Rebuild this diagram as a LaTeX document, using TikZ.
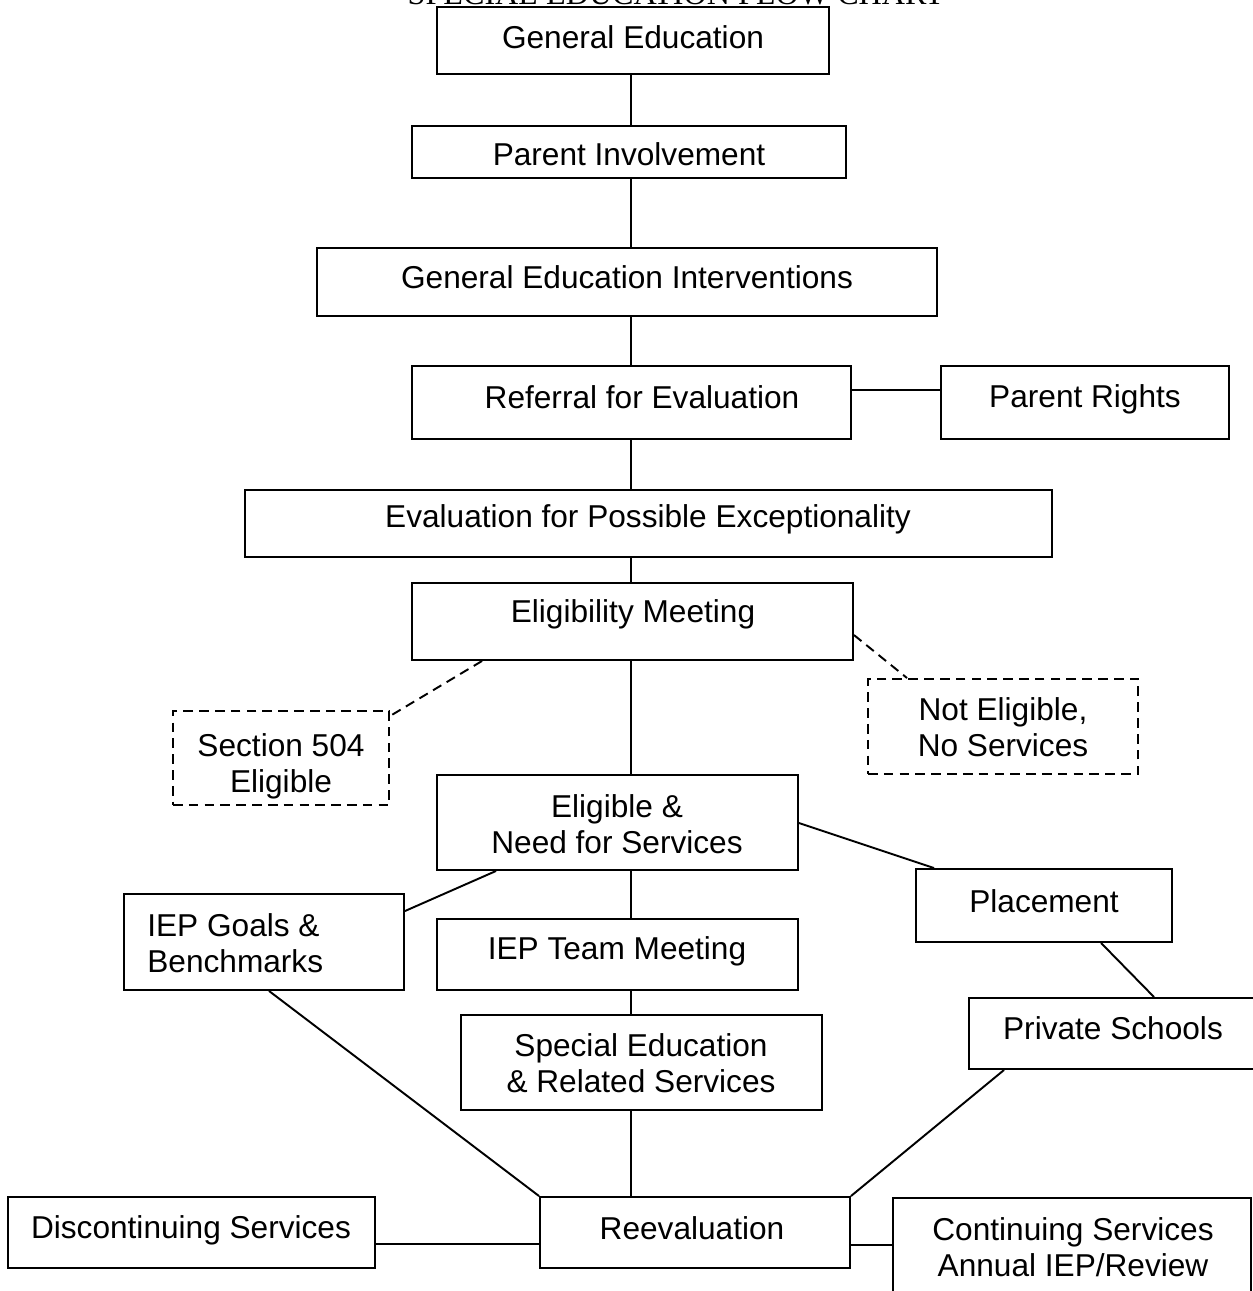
\documentclass[tikz,border=0pt]{standalone}
\usepackage{fontspec}
\setmainfont{Liberation Sans}
\newfontfamily\titlefont{Liberation Serif}
\usetikzlibrary{fit,calc}
\tikzset{
  box/.style={draw,line width=1.1pt,inner sep=0pt},
  optbox/.style={box,dash pattern=on 5.5pt off 3.5pt},
  lbl/.style={font=\fontsize{18}{20.5}\selectfont,align=center,inner sep=0pt},
  link/.style={line width=1.1pt},
  optlink/.style={link,dash pattern=on 5.5pt off 3.5pt}
}

\begin{document}
\begin{tikzpicture}[x=0.02cm,y=-0.02cm,line join=miter]
\useasboundingbox (0,0) rectangle (1253,1291);
\coordinate (spine) at (631,0);
% title, cut by the page edge
\node[font=\titlefont\fontsize{18.3}{20}\selectfont,anchor=base,inner sep=0pt] (title) at (676,5) {SPECIAL EDUCATION FLOW CHART};
% boxes
\node[box,fit={(437,7) (829,74)}] (gened) {};
\node[box,fit={(412,126) (846,178)}] (parent) {};
\node[box,fit={(317,248) (937,316)}] (gei) {};
\node[box,fit={(412,366) (851,439)}] (referral) {};
\node[box,fit={(941,366) (1229,439)}] (rights) {};
\node[box,fit={(245,490) (1052,557)}] (eval) {};
\node[box,fit={(412,583) (853,660)}] (elig) {};
\node[optbox,fit={(173,711) (389,805)}] (sec504) {};
\node[optbox,fit={(868,679) (1138,774)}] (noteli) {};
\node[box,fit={(437,775) (798,870)}] (eligible) {};
\node[box,fit={(124,894) (404,990)}] (iepgoals) {};
\node[box,fit={(916,869) (1172,942)}] (placement) {};
\node[box,fit={(969,998) (1262,1069)}] (private) {};
\node[box,fit={(437,919) (798,990)}] (iepteam) {};
\node[box,fit={(461,1015) (822,1110)}] (speced) {};
\node[box,fit={(540,1197) (850,1268)}] (reeval) {};
\node[box,fit={(8,1197) (375,1268)}] (discont) {};
\node[box,fit={(893,1198) (1251,1300)}] (contin) {};
% texts
\node[lbl] (gened-t) at (633,37) {General Education};
\node[lbl] (parent-t) at (629,154) {Parent Involvement};
\node[lbl] (gei-t) at (627,277) {General Education Interventions};
\node[lbl] (referral-t) at (642,397) {Referral for Evaluation};
\node[lbl] (rights-t) at (1085,399) {Parent Rights};
\node[lbl] (eval-t) at (648,519) {Evaluation for Possible Exceptionality};
\node[lbl] (elig-t) at (633,614) {Eligibility Meeting};
\node[lbl] (sec504-t) at (281,766) {Section 504\\Eligible};
\node[lbl] (noteli-t) at (1003,727) {Not Eligible,\\No Services};
\node[lbl] (eligible-t) at (617,824) {Eligible \&\\Need for Services};
\node[lbl,align=left,anchor=west] (iepgoals-t) at (147,943) {IEP Goals \&\\Benchmarks};
\node[lbl] (placement-t) at (1044,901) {Placement};
\node[lbl] (private-t) at (1113,1028) {Private Schools};
\node[lbl] (iepteam-t) at (617,951) {IEP Team Meeting};
\node[lbl] (speced-t) at (641,1063) {Special Education\\\& Related Services};
\node[lbl] (reeval-t) at (692,1228) {Reevaluation};
\node[lbl] (discont-t) at (191,1230) {Discontinuing Services};
\node[lbl] (contin-t) at (1073,1247) {Continuing Services\\Annual IEP/Review};
% main line
\draw[link] (gened.south -| spine) -- (parent.north -| spine);
\draw[link] (parent.south -| spine) -- (gei.north -| spine);
\draw[link] (gei.south -| spine) -- (referral.north -| spine);
\draw[link] (referral.south -| spine) -- (eval.north -| spine);
\draw[link] (eval.south -| spine) -- (elig.north -| spine);
\draw[link] (elig.south -| spine) -- (eligible.north -| spine);
\draw[link] (eligible.south -| spine) -- (iepteam.north -| spine);
\draw[link] (iepteam.south -| spine) -- (speced.north -| spine);
\draw[link] (speced.south -| spine) -- (reeval.north -| spine);
% side links
\draw[link] ($(referral.north east)+(0,25)$) coordinate (r1) -- (r1 -| rights.west);
\draw[optlink] ($(elig.south west)+(71,0)$) -- ($(sec504.north east)+(0,6)$);
\draw[optlink] ($(elig.north east)+(0,53)$) -- ($(noteli.north west)+(40,0)$);
\draw[link] ($(eligible.south west)+(60,0)$) -- ($(iepgoals.north east)+(0,18)$);
\draw[link] ($(eligible.north east)+(0,49)$) -- ($(placement.north west)+(19,0)$);
\draw[link] ($(placement.south west)+(186,0)$) -- ($(private.north west)+(186,0)$);
\draw[link] ($(iepgoals.south west)+(146,0)$) -- (reeval.north west);
\draw[link] ($(private.south west)+(36,0)$) -- (reeval.north east);
\draw[link] ($(discont.north east)+(0,48)$) coordinate (d1) -- (d1 -| reeval.west);
\draw[link] ($(reeval.north east)+(0,49)$) coordinate (c1) -- (c1 -| contin.west);
\end{tikzpicture}
\end{document}
